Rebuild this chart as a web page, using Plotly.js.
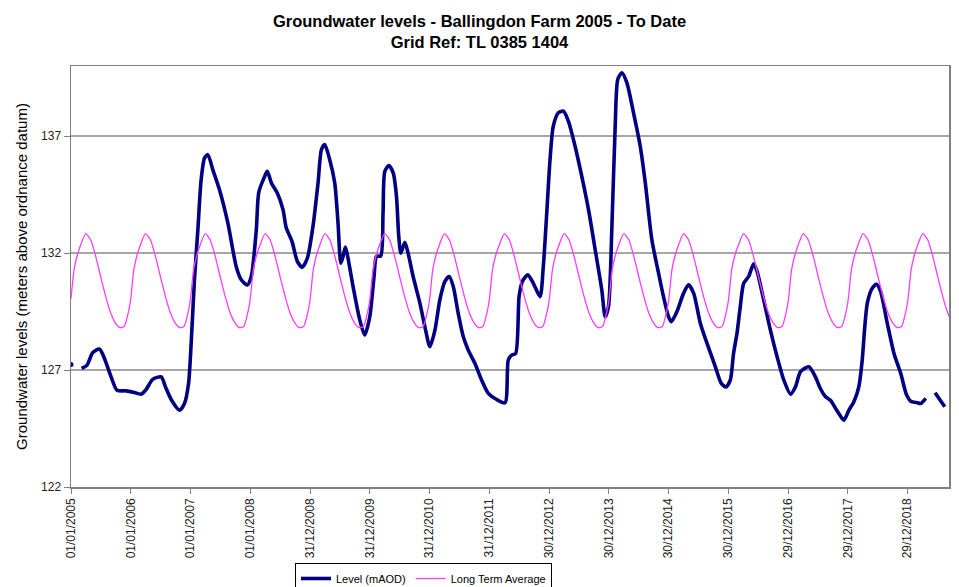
<!DOCTYPE html>
<html>
<head>
<meta charset="utf-8">
<script src="https://cdn.plot.ly/plotly-3.0.1.min.js"></script>
<style>html,body{margin:0;padding:0;background:#fff;}#chart{width:959px;height:587px;}</style>
</head>
<body>
<div id="chart"></div>
<script>
// ---- Data ----
const levelDates = [
 '2005-01-01','2005-02-01','2005-03-07','2005-04-09','2005-05-13','2005-06-23','2005-07-20','2005-09-03','2005-10-09','2005-12-03',
 '2006-01-23','2006-03-05','2006-04-05','2006-05-15','2006-07-06','2006-08-01','2006-09-05','2006-10-26','2006-11-25','2006-12-20',
 '2007-01-05','2007-01-25','2007-02-15','2007-03-07','2007-03-28','2007-04-17','2007-05-17','2007-06-27','2007-08-17','2007-10-07','2007-11-07','2007-12-14',
 '2008-01-07','2008-02-07','2008-02-22','2008-03-29','2008-04-14','2008-05-09','2008-06-14','2008-07-19','2008-08-08','2008-09-12','2008-10-15','2008-11-14','2008-12-15',
 '2009-01-18','2009-02-18','2009-03-11','2009-03-31','2009-04-30','2009-05-31','2009-06-20','2009-07-07','2009-07-21','2009-08-04','2009-08-20','2009-09-20','2009-10-31','2009-11-30','2009-12-31',
 '2010-01-26','2010-02-10','2010-03-08','2010-03-22','2010-04-02','2010-04-26','2010-05-23','2010-06-12','2010-06-26','2010-07-09','2010-08-02','2010-08-22','2010-09-22','2010-11-02','2010-12-07',
 '2011-01-02','2011-02-02','2011-03-04','2011-04-04','2011-04-30','2011-05-25','2011-06-24','2011-07-25','2011-08-24','2011-10-04','2011-11-14','2011-12-25',
 '2012-02-14','2012-04-05','2012-04-25','2012-05-16','2012-06-09','2012-06-30','2012-07-20','2012-08-22','2012-09-25','2012-11-05','2012-11-25','2012-12-16',
 '2013-01-05','2013-01-25','2013-02-25','2013-03-28','2013-04-27','2013-06-07','2013-07-18','2013-08-28','2013-10-08','2013-11-17','2013-12-08','2013-12-28',
 '2014-01-18','2014-02-07','2014-02-23','2014-03-20','2014-04-19','2014-05-30','2014-07-10','2014-08-10','2014-09-19','2014-10-30','2014-11-29','2014-12-30',
 '2015-01-16','2015-02-19','2015-04-01','2015-05-01','2015-06-01','2015-07-12','2015-08-22','2015-10-12','2015-11-17','2015-12-16',
 '2016-01-11','2016-01-31','2016-02-21','2016-03-12','2016-04-02','2016-05-02','2016-06-02','2016-06-23','2016-08-02','2016-09-12','2016-10-23','2016-12-03',
 '2017-01-13','2017-02-12','2017-03-15','2017-05-05','2017-06-14','2017-07-15','2017-08-15','2017-09-14','2017-10-15','2017-11-04','2017-12-05',
 '2018-01-04','2018-02-04','2018-03-06','2018-03-27','2018-04-10','2018-04-27','2018-05-27','2018-06-23','2018-07-17','2018-08-27','2018-10-07','2018-11-17','2018-12-23',
 '2019-01-17','2019-02-27','2019-03-19','2019-04-19','2019-05-15','2019-06-15','2019-08-13'
];
const levelValues = [
 127.24,null,127.07,127.21,127.74,127.90,127.57,126.71,126.14,126.11,
 126.04,125.97,126.17,126.60,126.71,126.28,125.74,125.28,125.57,126.43,
 128.14,130.86,133.00,135.14,136.07,136.21,135.57,134.71,133.29,131.43,130.86,130.64,
 131.00,133.00,134.60,135.28,135.50,135.00,134.57,133.86,133.07,132.50,131.64,131.40,131.79,
 133.14,135.00,136.43,136.64,136.00,135.00,133.29,131.57,131.86,132.26,131.79,130.57,129.14,128.50,129.28,
 131.00,131.86,131.88,133.71,135.50,135.74,135.43,134.43,132.71,132.00,132.46,132.00,131.00,129.86,128.71,
 128.00,128.71,130.00,130.79,131.00,130.57,129.43,128.43,127.86,127.29,126.57,126.00,
 125.74,125.60,127.43,127.64,127.71,130.14,130.79,131.07,130.71,130.14,131.43,133.71,
 136.00,137.43,138.00,138.07,137.64,136.57,135.28,133.86,132.14,130.43,129.28,129.71,
 133.14,137.43,139.43,139.71,139.29,138.00,136.57,135.00,132.57,131.14,130.14,129.28,
 129.07,129.50,130.29,130.64,130.29,129.00,128.14,127.14,126.43,126.28,
 126.57,127.71,128.57,129.71,130.71,131.00,131.54,131.21,130.00,128.71,127.57,126.57,
 125.97,126.28,126.93,127.14,126.71,126.20,125.86,125.71,125.36,125.14,124.86,
 125.28,125.64,126.28,127.43,128.71,129.86,130.50,130.67,130.36,129.00,127.71,126.86,125.93,
 125.67,125.60,125.57,125.79,null,126.03,125.43
];

// Long term average: one value per point of the year (same every year)
const ltaMonthDays = ['01-01','01-20','02-10','03-01','04-01','05-01','06-01','07-01','08-01','09-01','10-01','10-28','11-22','12-20'];
const ltaValues    = [130.05, 131.30, 131.95, 132.35, 132.83, 132.57, 131.86, 131.00, 130.14, 129.43, 129.00, 128.81, 128.86, 129.55];
const ltaYears = [2005,2006,2007,2008,2009,2010,2011,2012,2013,2014,2015,2016,2017,2018,2019];

const tickDates = ['2005-01-01','2006-01-01','2007-01-01','2008-01-01','2008-12-31','2009-12-31','2010-12-31','2011-12-31',
                   '2012-12-30','2013-12-30','2014-12-30','2015-12-30','2016-12-29','2017-12-29','2018-12-29'];
const tickLabels = ['01/01/2005','01/01/2006','01/01/2007','01/01/2008','31/12/2008','31/12/2009','31/12/2010','31/12/2011',
                    '30/12/2012','30/12/2013','30/12/2014','30/12/2015','29/12/2016','29/12/2017','29/12/2018'];
const yTicks = [122, 127, 132, 137];

// ---- Build traces ----
const ltaX = [], ltaY = [];
ltaYears.forEach(y => ltaMonthDays.forEach((md, i) => { ltaX.push(y + '-' + md); ltaY.push(ltaValues[i]); }));

// isolated single points (neighbours missing) are shown as dots
const dotX = [], dotY = [];
levelValues.forEach((v, i) => {
  const prev = i > 0 ? levelValues[i-1] : null;
  const next = i < levelValues.length-1 ? levelValues[i+1] : null;
  if (v !== null && prev === null && next === null) { dotX.push(levelDates[i]); dotY.push(v); }
});

const FONT = 'Liberation Sans, Arial, sans-serif';
const traces = [
  {x: levelDates, y: levelValues, type: 'scatter', mode: 'lines', name: 'Level (mAOD)',
   line: {color: '#000080', width: 3.6, shape: 'spline', smoothing: 0.7}, connectgaps: false},
  {x: ltaX, y: ltaY, type: 'scatter', mode: 'lines', name: 'Long Term Average',
   line: {color: '#ff3cff', width: 1.3, shape: 'spline', smoothing: 0.6}},
  {x: dotX, y: dotY, type: 'scatter', mode: 'markers', showlegend: false, hoverinfo: 'skip',
   marker: {color: '#000080', size: 5}}
];

const layout = {
  width: 959, height: 587,
  paper_bgcolor: '#ffffff', plot_bgcolor: '#ffffff',
  margin: {l: 71, r: 10, t: 66, b: 100, autoexpand: false},
  font: {family: FONT, color: '#000'},
  title: {text: '<b>Groundwater levels - Ballingdon Farm 2005 - To Date<br>Grid Ref: TL 0385 1404</b>',
          font: {family: FONT, size: 16.5, color: '#000'}, x: 0.5, xref: 'container', xanchor: 'center',
          y: 1 - 27/587, yref: 'container', yanchor: 'middle'},
  xaxis: {type: 'date', range: ['2005-01-01', '2019-09-08'], tickmode: 'array', tickvals: tickDates, ticktext: tickLabels,
          tickangle: -90, tickfont: {family: FONT, size: 12, color: '#222'}, ticks: 'outside', ticklen: 5,
          tickcolor: '#808080', showline: true, linecolor: '#808080', linewidth: 1.5, mirror: true,
          showgrid: false, zeroline: false, automargin: false},
  yaxis: {range: [122, 140], tickmode: 'array', tickvals: yTicks, ticks: 'outside', ticklen: 6, tickcolor: '#808080',
          tickfont: {family: FONT, size: 12, color: '#222'}, showline: true, linecolor: '#808080', linewidth: 1.5, mirror: true,
          showgrid: true, gridcolor: '#a6a6a6', gridwidth: 1.5, zeroline: false, automargin: false,
          title: {text: 'Groundwater levels (meters above ordnance datum)', font: {family: FONT, size: 15, color: '#000'}, standoff: 10}},
  showlegend: true,
  legend: {orientation: 'h', xref: 'container', yref: 'container', x: 295/959, xanchor: 'left', y: 1 - 563/587, yanchor: 'top',
           bordercolor: '#000', borderwidth: 1, bgcolor: '#fff', font: {family: FONT, size: 11, color: '#000'}}
};

Plotly.newPlot('chart', traces, layout, {displayModeBar: false, staticPlot: true});
</script>
</body>
</html>
